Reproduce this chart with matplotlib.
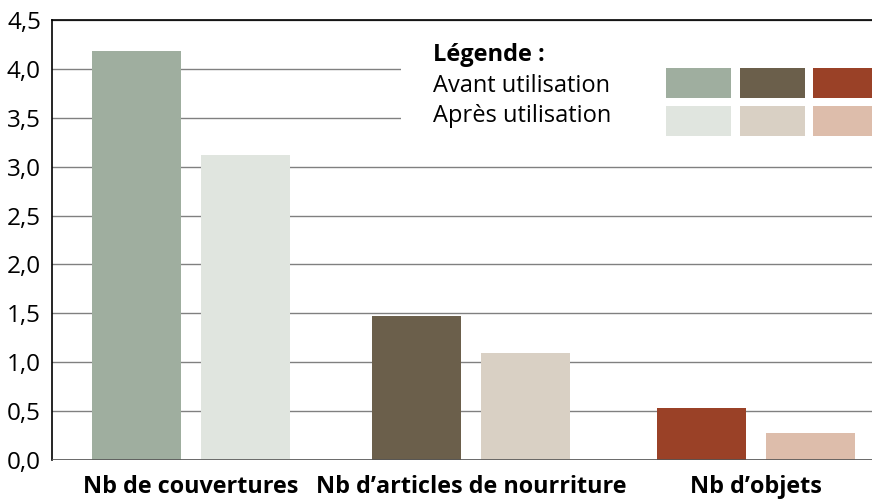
import matplotlib
matplotlib.use("Agg")
import matplotlib.pyplot as plt
from matplotlib.patches import Rectangle
import numpy as np

categories = ["Nb de couvertures", "Nb d’articles de nourriture", "Nb d’objets"]
avant = [4.18, 1.47, 0.53]
apres = [3.12, 1.09, 0.28]
colors_avant = ["#9FAE9F", "#6B5F4B", "#9A4127"]
colors_apres = ["#E0E5DF", "#D9D0C4", "#DDBDAB"]
yticks = [0.0, 0.5, 1.0, 1.5, 2.0, 2.5, 3.0, 3.5, 4.0, 4.5]
ytick_labels = ["0,0", "0,5", "1,0", "1,5", "2,0", "2,5", "3,0", "3,5", "4,0", "4,5"]
legend_title = "Légende :"
legend_labels = ["Avant utilisation", "Après utilisation"]

plt.rcParams['font.family'] = ['Open Sans', 'DejaVu Sans']

W, H = 872, 499
fig = plt.figure(figsize=(W/100, H/100), dpi=100)
ax = fig.add_axes([52/W, 1-460/H, (872-52)/W, (460-20)/H])

x = np.array([0.0, 0.99, 2.0])
bw = 0.315
off = 0.193
ax.bar(x - off, avant, width=bw, color=colors_avant, zorder=3)
ax.bar(x + off, apres, width=bw, color=colors_apres, zorder=3)

ax.set_xlim(-0.492, 2.41)
ax.set_ylim(0, 4.5)
ax.set_yticks(yticks)
ax.set_yticklabels(ytick_labels, fontsize=17.5)
ax.set_xticks(x)
ax.set_xticklabels(categories, fontsize=16.8, fontweight='bold')
ax.tick_params(axis='y', length=0, pad=8)
ax.tick_params(axis='x', length=0, pad=11)
ax.yaxis.grid(True, color='#808080', linewidth=1, zorder=0)
for s in ['right', 'bottom']:
    ax.spines[s].set_visible(False)
ax.spines['top'].set_color('black')
ax.spines['top'].set_linewidth(1.2)
ax.spines['left'].set_color('black')
ax.spines['left'].set_linewidth(1.2)
ax.axhline(0, color='#555555', linewidth=1.2, zorder=4)

# legend background box (hides gridlines behind legend)
fig.add_artist(Rectangle((401/W, 1-152/H), (872-401)/W, (152-24)/H,
                         transform=fig.transFigure, color='white', lw=0, zorder=2))
fig.text(433/W, 1-55/H, legend_title, fontsize=17, fontweight='bold', va='center', ha='left', zorder=3)
fig.text(433/W, 1-86/H, legend_labels[0], fontsize=17, va='center', ha='left', zorder=3)
fig.text(433/W, 1-116/H, legend_labels[1], fontsize=17, va='center', ha='left', zorder=3)
xs = [666, 740, 813]
for i in range(3):
    fig.add_artist(Rectangle((xs[i]/W, 1-98/H), 65/W, 30/H, transform=fig.transFigure,
                             color=colors_avant[i], lw=0, zorder=3))
    fig.add_artist(Rectangle((xs[i]/W, 1-136/H), 65/W, 30/H, transform=fig.transFigure,
                             color=colors_apres[i], lw=0, zorder=3))

fig.savefig("out.png", dpi=100)
